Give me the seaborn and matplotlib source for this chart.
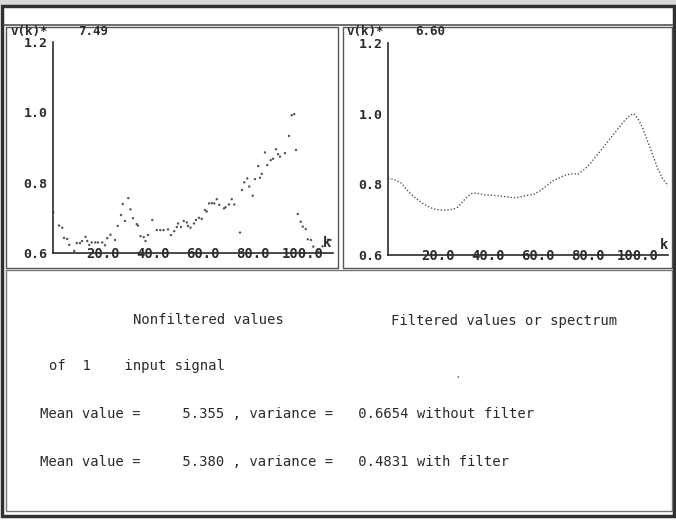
import matplotlib
matplotlib.use("Agg")
import matplotlib.pyplot as plt
from matplotlib.patches import Rectangle
from matplotlib.ticker import FixedLocator, MultipleLocator
import seaborn as sns
import pandas as pd

# nonfiltered values v(k)
k_raw = [0.1, 2.4, 3.7, 4.4, 5.7, 6.5, 8.5, 9.5, 10.8, 11.6,
         13.0, 13.7, 14.5, 15.5, 16.9, 18.0, 19.7, 20.8, 21.7, 23.0,
         24.8, 25.9, 27.2, 27.9, 28.8, 30.1, 31.0, 32.0, 33.5, 34.0,
         35.0, 36.3, 37.0, 38.0,
         39.7, 41.5, 42.9, 44.2, 46.0, 47.2, 48.5, 49.5, 50.0, 51.2,
         52.3, 53.5, 54.0, 55.0, 56.4, 57.2, 58.4, 59.5, 60.8, 61.5,
         62.4, 63.5, 64.5, 65.5, 66.5, 68.4, 69.0, 70.4, 71.5, 72.5,
         74.8, 75.6, 76.5,
         77.7, 78.5, 79.9, 80.8, 82.1, 82.8, 83.5, 84.8, 85.7, 87.1,
         88.0, 89.2, 90.0, 90.8, 92.8, 94.4, 95.5, 96.5, 97.2, 97.9,
         99.1, 99.9, 101.1, 101.9, 103.2, 104.1, 106.1, 107.8, 110.0, 111.0]
v_raw = [0.715, 0.678, 0.672, 0.643, 0.640, 0.623, 0.606, 0.628, 0.628, 0.634,
         0.646, 0.634, 0.623, 0.630, 0.630, 0.630, 0.630, 0.622, 0.642, 0.652,
         0.637, 0.677, 0.708, 0.739, 0.691, 0.756, 0.724, 0.699, 0.682, 0.678,
         0.648, 0.645, 0.634, 0.651,
         0.694, 0.665, 0.665, 0.665, 0.667, 0.651, 0.662, 0.674, 0.684, 0.674,
         0.691, 0.687, 0.677, 0.672, 0.684, 0.694, 0.700, 0.697, 0.722, 0.718,
         0.741, 0.742, 0.741, 0.753, 0.737, 0.727, 0.730, 0.738, 0.753, 0.738,
         0.658, 0.779, 0.801,
         0.812, 0.789, 0.763, 0.810, 0.847, 0.814, 0.825, 0.886, 0.850, 0.864,
         0.868, 0.895, 0.881, 0.874, 0.884, 0.933, 0.992, 0.995, 0.893, 0.711,
         0.689, 0.675, 0.668, 0.639, 0.637, 0.618, 0.604, 0.619, 0.638, 0.637]

# filtered values / spectrum
k_filt = [0, 2.3, 5.5, 7.3, 10, 12.7, 15.3, 18, 20.7, 23.3,
          26, 28, 30, 32, 34, 36, 38.7, 42, 44.7, 47.3,
          50, 52.7, 55.5, 58, 60.7, 63.3, 66, 68.7, 71.3, 74,
          76, 78.7, 81.3, 84, 86.7, 89.3, 92, 94.7, 96.7, 98.3,
          100, 102, 104, 106, 108, 110, 112.7]
v_filt = [0.817, 0.814, 0.803, 0.786, 0.767, 0.752, 0.740, 0.731, 0.727, 0.727,
          0.729, 0.736, 0.752, 0.767, 0.776, 0.774, 0.770, 0.769, 0.767, 0.765,
          0.762, 0.764, 0.769, 0.771, 0.781, 0.795, 0.810, 0.819, 0.827, 0.830,
          0.829, 0.843, 0.862, 0.886, 0.910, 0.933, 0.957, 0.981, 0.995, 1.000,
          0.986, 0.957, 0.919, 0.881, 0.843, 0.814, 0.790]

scale_max = ["7.49", "6.60"]
y_ticks = [0.6, 0.8, 1.0, 1.2]
x_ticks = [20, 40, 60, 80, 100]

W, H = 676, 520
INK = "#2b2b2b"
MONO = ["DejaVu Sans Mono"]

sns.set_style("white")
plt.rcParams["font.family"] = MONO


def fx(x):
    return x / W


def fy(y):
    return 1 - y / H


def frame(fig, x0, y0, x1, y1, lw=1.0, color=INK):
    fig.add_artist(Rectangle((fx(x0), fy(y1)), (x1 - x0) / W, (y1 - y0) / H,
                             transform=fig.transFigure, fill=False, lw=lw, color=color))


def style_axis(ax):
    ax.set_xlim(0, 112)
    ax.set_ylim(0.6, 1.2)
    sns.despine(ax=ax)
    for side in ("left", "bottom"):
        ax.spines[side].set_color(INK)
        ax.spines[side].set_linewidth(1.2)
    ax.set_yticks(y_ticks)
    ax.set_yticklabels([f"{t:.1f}" for t in y_ticks])
    ax.xaxis.set_major_locator(FixedLocator(x_ticks))
    ax.set_xticklabels([f"{t:.1f}" for t in x_ticks])
    ax.xaxis.set_minor_locator(MultipleLocator(5))
    ax.tick_params(axis="y", direction="out", length=3, width=1, color=INK,
                   labelsize=9.5, pad=1, labelcolor=INK)
    ax.tick_params(axis="x", which="both", direction="inout", length=4, width=1,
                   color=INK, labelsize=10, pad=-6, labelcolor=INK)
    for lab in ax.get_xticklabels() + ax.get_yticklabels():
        lab.set_fontweight("bold")
    ax.set_xlabel("")
    ax.set_ylabel("")
    ax.patch.set_alpha(0)


fig = plt.figure(figsize=(W / 100, H / 100), dpi=100)

# window frames
fig.add_artist(Rectangle((0, fy(5)), 1, 5 / H, transform=fig.transFigure,
                         color="#d8d8d8", lw=0))
frame(fig, 2, 6, 674, 516, lw=2.5, color="#303030")
fig.add_artist(plt.Line2D([fx(4), fx(673)], [fy(25), fy(25)], color="#555", lw=1.2))
frame(fig, 6, 27, 338, 268, lw=1.0, color="#555")
frame(fig, 343, 27, 672, 268, lw=1.0, color="#555")
frame(fig, 6, 270, 672, 511, lw=1.0, color="#777")

raw = pd.DataFrame({"k": k_raw, "v": v_raw})
filt = pd.DataFrame({"k": k_filt, "v": v_filt})

ax1 = fig.add_axes([fx(53), fy(253), 280 / W, 211 / H])
sns.scatterplot(data=raw, x="k", y="v", ax=ax1, s=3, color="#555", edgecolor="none")
style_axis(ax1)
ax1.text(0.964, 0.047, "k", transform=ax1.transAxes, fontsize=10,
         fontweight="bold", color=INK, ha="left", va="center")

ax2 = fig.add_axes([fx(388), fy(255), 280 / W, 212 / H])
sns.lineplot(data=filt, x="k", y="v", ax=ax2, color="#555", lw=1.0, linestyle=(0, (1, 1.4)))
style_axis(ax2)
ax2.text(0.97, 0.045, "k", transform=ax2.transAxes, fontsize=10,
         fontweight="bold", color=INK, ha="left", va="center")

for x_lab, x_val, val in [(11, 78, scale_max[0]), (347, 415, scale_max[1])]:
    fig.text(fx(x_lab), fy(31.5), "v(k)*", fontsize=9, fontweight="bold",
             color=INK, ha="left", va="center")
    fig.text(fx(x_val), fy(31.5), val, fontsize=9, fontweight="bold",
             color=INK, ha="left", va="center")

# statistics block
txt = dict(fontsize=10, color=INK, ha="left", va="center")
fig.text(fx(133), fy(320), "Nonfiltered values", **txt)
fig.text(fx(391), fy(321), "Filtered values or spectrum", **txt)
fig.text(fx(49), fy(366), "of  1    input signal", **txt)
fig.text(fx(454), fy(375), ".", fontsize=8, color="#777", ha="left", va="center")
fig.text(fx(40), fy(414),
         "Mean value =" + " " * 5 + "5.355 , variance =" + " " * 3 + "0.6654 without filter", **txt)
fig.text(fx(40), fy(462),
         "Mean value =" + " " * 5 + "5.380 , variance =" + " " * 3 + "0.4831 with filter", **txt)

fig.savefig("out.png", dpi=100)
